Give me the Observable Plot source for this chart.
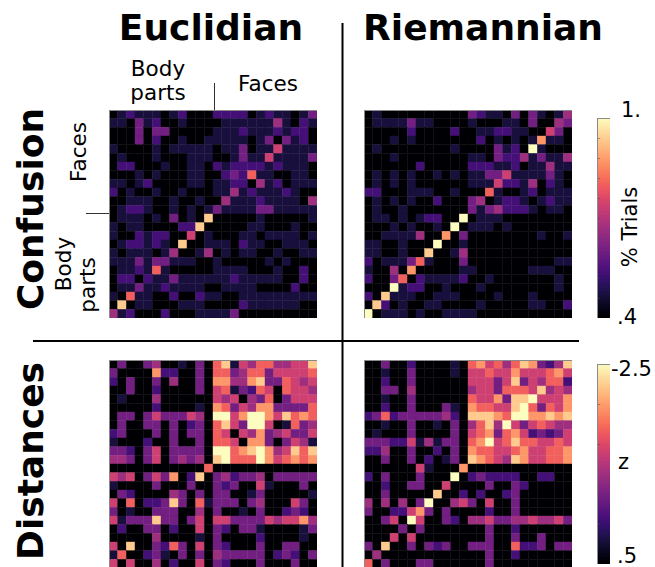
<!DOCTYPE html>
<html><head><meta charset="utf-8">
<script src="https://cdn.jsdelivr.net/npm/d3@7"></script>
<script src="https://cdn.jsdelivr.net/npm/@observablehq/plot@0.6"></script>
<style>
body{margin:0;background:#fff;font-family:"DejaVu Sans",sans-serif;}
#root{position:relative;width:655px;height:567px;overflow:hidden;background:#fff;}
#root svg{position:absolute;}
</style></head><body><div id="root"></div>
<script>
const confEuclid = [
[0,1,2,1,1,1,0,1,2,0,0,0,2,2,2,2,0,1,2,1,1,0,1,3],
[1,1,0,3,1,2,0,0,1,0,0,0,0,1,1,1,1,1,1,4,1,0,2,1],
[0,0,0,3,0,3,3,0,0,0,0,0,1,1,1,2,1,1,1,2,1,2,2,0],
[0,0,0,3,0,2,0,0,1,0,0,1,1,1,1,1,0,1,3,0,3,1,2,0],
[1,0,0,0,0,1,0,1,1,1,1,1,0,1,1,3,0,1,1,5,1,1,1,1],
[0,1,0,0,0,1,0,0,0,1,1,1,0,0,1,3,1,1,5,1,1,1,1,3],
[0,2,2,0,0,0,1,0,0,1,1,0,2,1,2,2,2,2,1,2,1,1,1,0],
[0,0,0,1,0,1,0,0,0,1,1,0,0,2,3,2,6,1,1,0,0,1,1,0],
[1,1,0,1,2,0,0,0,0,1,1,0,1,1,2,2,0,4,1,2,0,1,1,1],
[2,0,1,0,0,1,0,0,1,0,0,0,1,1,4,1,2,1,1,1,2,1,0,0],
[0,0,1,1,1,0,0,1,0,0,1,0,0,4,1,1,1,2,1,1,1,1,0,4],
[0,1,2,2,1,0,0,1,0,1,0,1,3,1,1,1,1,3,3,1,1,1,1,1],
[0,1,1,1,0,1,0,3,0,1,0,8,0,0,0,0,0,1,0,0,0,0,0,1],
[1,0,1,1,0,0,0,0,2,2,8,0,0,0,0,0,1,1,0,0,0,1,0,0],
[1,0,0,2,1,2,2,0,0,5,0,1,0,0,0,1,1,0,1,1,1,1,0,1],
[0,1,2,2,1,2,1,0,8,0,0,1,1,1,0,2,1,1,0,0,1,1,1,0],
[1,0,1,1,1,0,1,4,0,0,1,4,0,1,0,1,1,0,0,1,0,0,1,1],
[1,1,1,3,1,3,3,1,1,1,0,0,1,0,0,0,0,0,1,0,1,0,0,0],
[0,1,1,2,1,6,1,0,0,0,0,0,1,1,1,1,0,0,0,1,0,0,2,0],
[0,2,2,0,2,1,1,3,1,1,1,1,1,1,2,1,1,1,1,1,0,0,2,0],
[0,1,1,3,1,1,2,1,1,1,1,0,0,1,1,1,1,0,0,0,0,2,0,0],
[1,0,6,1,1,0,0,2,0,0,2,1,1,0,0,1,1,1,1,1,1,1,1,1],
[0,8,0,1,1,0,0,0,1,1,1,0,0,0,0,2,1,1,1,1,1,1,0,0],
[4,1,2,0,0,0,2,0,0,0,1,1,1,1,3,0,0,0,0,0,0,0,0,0]
];
const confRiemann = [
[0,1,0,0,0,0,0,0,0,0,0,0,3,2,1,1,0,3,0,3,1,0,1,4],
[0,1,1,1,1,3,1,1,0,0,0,0,1,0,0,0,1,1,0,3,0,0,4,3],
[0,0,0,0,0,2,0,0,0,0,2,0,0,1,1,2,2,1,1,0,0,5,3,0],
[0,0,0,1,0,1,0,0,0,0,0,0,0,2,0,1,0,1,0,1,7,1,1,0],
[0,1,0,0,0,0,0,0,0,0,1,0,0,0,0,3,1,2,0,9,1,0,0,0],
[0,0,0,1,0,0,0,0,0,0,0,0,1,1,0,3,2,2,4,1,3,1,1,4],
[0,0,0,0,0,0,2,0,0,0,0,0,2,2,2,1,1,2,0,1,1,4,1,1],
[0,1,0,1,0,1,0,0,1,0,1,0,1,1,3,3,5,1,1,1,1,3,1,0],
[0,1,0,1,0,1,0,0,0,0,0,0,1,1,1,5,2,2,1,4,0,2,1,0],
[2,2,0,0,0,1,1,1,0,0,1,0,0,0,6,1,0,0,1,2,0,1,1,1],
[0,1,0,1,0,1,0,0,2,0,0,0,3,4,0,1,2,2,1,0,1,2,1,1],
[0,1,0,0,1,0,0,0,0,0,0,0,3,1,3,4,2,2,2,1,0,1,1,0],
[0,1,1,0,1,0,1,2,2,0,0,9,0,1,1,1,0,0,0,0,0,0,0,0],
[0,0,0,1,0,1,0,0,1,0,9,0,1,1,1,0,1,0,0,0,0,0,0,0],
[0,0,1,1,1,1,4,0,0,7,0,3,0,0,0,0,0,0,0,0,1,0,0,1],
[1,1,0,0,1,0,0,0,9,0,0,1,0,0,0,0,0,0,0,0,0,0,0,0],
[1,1,0,0,1,0,0,8,0,0,1,4,0,0,0,0,0,0,0,0,0,0,0,0],
[2,0,1,1,1,3,6,1,0,0,0,3,0,0,0,0,0,0,0,0,0,0,1,1],
[1,0,0,4,0,7,0,0,0,0,0,1,1,0,0,0,0,0,0,1,1,1,0,0],
[2,0,0,3,6,0,2,1,1,1,1,2,0,0,1,0,0,0,0,0,0,0,1,0],
[0,0,0,9,1,2,2,0,0,1,0,0,0,1,0,0,0,0,0,0,0,0,1,0],
[2,0,8,1,1,1,0,0,1,1,1,0,0,0,0,1,0,0,0,1,0,0,0,0],
[0,8,2,0,1,0,0,1,1,0,0,0,0,1,0,0,0,0,0,1,1,0,0,2],
[9,0,1,1,1,0,1,0,0,1,1,1,1,0,0,0,0,0,0,0,0,0,0,0]
];
const distEuclid = [
[0,3,0,0,3,4,0,0,1,0,3,0,6,8,1,5,4,6,6,4,4,5,5,8],
[3,0,0,0,0,7,2,2,0,0,3,0,6,6,3,4,6,6,3,5,5,5,5,6],
[2,0,3,0,0,3,0,4,0,0,3,0,7,7,4,4,7,8,3,3,6,5,4,5],
[0,0,3,0,0,2,0,0,0,0,3,0,5,6,1,3,2,6,5,0,6,5,5,4],
[0,1,0,0,0,4,0,0,0,0,0,0,5,4,5,0,4,3,6,0,3,5,5,5],
[0,0,0,0,0,2,0,0,0,0,1,0,7,6,3,5,4,7,7,3,3,3,3,6],
[0,3,3,0,3,5,3,3,3,5,4,0,9,9,5,7,9,9,7,5,8,6,7,6],
[0,3,0,0,3,3,0,3,0,2,3,0,6,8,5,3,9,9,5,0,1,6,3,4],
[2,3,0,0,0,3,0,3,0,3,3,0,6,5,0,5,4,7,3,4,5,3,3,5],
[1,0,0,0,2,0,0,3,0,0,3,0,6,6,5,0,7,7,3,0,3,5,4,1],
[3,3,2,0,3,5,0,3,3,3,3,0,9,9,6,7,8,9,7,4,5,8,6,8],
[4,4,3,0,3,5,0,3,4,3,4,0,8,9,6,6,6,9,7,5,6,7,6,7],
[0,0,0,0,0,0,0,0,0,0,0,6,0,0,0,0,0,0,0,0,0,0,0,0],
[5,4,5,0,3,5,3,7,0,2,8,0,3,4,2,3,3,4,0,3,3,3,3,3],
[1,0,0,0,0,3,0,0,0,3,0,0,3,2,3,0,0,5,1,0,0,0,3,0],
[0,3,2,0,0,0,0,4,3,0,3,0,3,3,0,0,1,3,0,0,0,0,0,1],
[5,0,6,0,2,2,3,8,3,0,6,1,3,3,3,0,3,4,0,0,0,5,3,0],
[3,0,1,0,0,3,3,3,0,0,4,0,3,0,0,1,0,3,0,0,2,3,2,0],
[5,1,3,3,3,8,3,3,0,3,5,0,5,5,3,3,3,3,5,4,5,5,7,4],
[0,2,0,0,3,3,0,2,0,0,5,0,3,2,0,3,3,1,0,0,0,0,1,3],
[0,0,0,0,0,4,0,0,0,0,1,0,3,0,0,0,0,2,0,0,0,0,1,0],
[5,0,8,0,0,3,2,6,3,0,5,0,3,2,0,0,0,3,0,0,3,3,0,0],
[1,6,0,0,2,3,1,0,3,0,3,0,4,3,3,3,3,3,0,2,3,2,0,3],
[5,0,5,0,0,4,0,2,0,0,5,0,3,2,0,0,0,3,0,0,0,3,0,0]
];
const distRiemann = [
[0,0,3,0,0,2,0,0,0,0,1,0,6,7,5,6,4,6,8,7,3,2,4,8],
[0,0,1,0,0,3,0,0,0,0,1,0,5,5,6,5,5,7,5,5,5,6,7,5],
[0,0,2,0,0,3,0,0,0,0,0,0,5,5,5,3,5,8,3,5,4,6,6,2],
[0,0,3,3,0,4,0,0,0,0,0,0,4,5,5,3,6,6,6,5,8,4,5,4],
[0,0,1,0,0,3,0,0,0,0,0,0,6,5,5,7,3,8,8,9,5,5,5,7],
[0,0,2,0,0,3,0,0,0,3,1,0,7,6,6,5,5,8,9,6,3,6,5,7],
[2,3,6,2,3,3,3,3,3,4,2,0,8,8,8,7,6,9,9,7,7,8,7,8],
[0,0,1,0,0,3,0,0,1,0,3,0,4,6,8,4,9,5,3,5,6,5,4,4],
[0,1,0,0,0,3,0,0,0,0,3,0,5,6,7,3,6,7,5,2,3,2,3,5],
[3,3,3,2,2,5,1,4,1,3,3,0,6,7,9,5,6,8,6,6,5,5,6,5],
[2,2,4,0,0,3,0,0,2,0,3,0,7,6,6,5,5,6,7,5,5,6,6,7],
[0,0,3,0,0,3,0,2,0,1,3,0,8,7,6,5,4,8,7,5,5,6,6,7],
[0,0,0,0,0,0,5,1,0,0,0,7,0,0,0,0,0,0,0,0,0,0,0,0],
[2,0,3,0,0,0,3,0,0,0,9,0,2,3,2,2,2,2,0,0,2,2,0,0],
[0,0,2,0,0,3,3,0,0,5,0,0,0,0,3,0,0,3,2,0,0,0,0,0],
[0,0,3,0,0,0,0,0,8,0,0,2,0,2,0,0,2,3,0,0,0,0,0,0],
[4,0,4,0,4,0,3,9,0,0,4,5,3,0,5,0,0,3,0,0,0,0,0,0],
[3,0,0,2,2,5,7,3,0,3,0,0,0,0,2,0,0,3,0,0,0,0,0,0],
[0,0,3,5,0,9,5,0,0,3,2,0,4,4,5,3,3,4,4,5,4,4,5,3],
[0,0,0,0,3,0,3,0,0,0,0,0,0,0,3,0,0,2,0,0,0,0,0,0],
[0,0,0,5,0,5,0,0,0,0,0,0,0,0,3,0,0,3,0,0,3,0,0,0],
[3,0,8,0,0,3,0,3,2,3,0,0,3,3,3,0,0,6,2,2,3,0,3,3],
[0,4,0,0,0,0,0,0,0,0,0,0,0,0,3,0,0,2,0,0,0,0,0,0],
[6,0,3,0,0,0,3,3,0,0,0,0,0,0,3,0,0,0,0,0,0,0,0,0]
];
const colTitles = ["Euclidian", "Riemannian"];
const rowTitles = ["Confusion", "Distances"];
const confTicks = ["1.", ".4"];
const distTicks = ["-2.5", ".5"];
const confLabel = "% Trials";
const distLabel = "z";
const levelDomain = [0, 9];

const root = document.getElementById("root");
const N = 24;
const colorOpt = {type: "linear", scheme: "magma", domain: levelDomain};

function place(el, left, top) {
  el.style.left = left + "px"; el.style.top = top + "px";
  root.appendChild(el);
}

function heat(matrix, left, top) {
  const cells = matrix.flatMap((row, r) => row.map((v, c) => ({r, c, v})));
  const p = Plot.plot({
    width: 208, height: 208, margin: 0,
    x: {type: "band", domain: d3.range(N), padding: 0, round: false, axis: null},
    y: {type: "band", domain: d3.range(N), padding: 0, round: false, axis: null},
    color: colorOpt,
    marks: [
      Plot.cell(cells, {x: "c", y: "r", fill: "v", stroke: "v", strokeWidth: 0.4, inset: 0}),
      Plot.frame({stroke: "#8a8a8a", strokeWidth: 1})
    ]
  });
  place(p, left, top);
}

function colorbar(left, top, h, nTicks) {
  const step = 9 / 150;
  const steps = d3.range(0, 9, step);
  const ticks = d3.range(1, nTicks).map(i => i * 9 / nTicks);
  const p = Plot.plot({
    width: 13, height: h, margin: 0,
    x: {domain: [0, 1], axis: null},
    y: {domain: levelDomain, axis: null},
    color: colorOpt,
    marks: [
      Plot.rect(steps, {x1: 0, x2: 1, y1: d => d, y2: d => d + step * 1.6, fill: d => d}),
      Plot.ruleY(ticks, {y: d => d, x1: 0, x2: 0.25, stroke: "#444", strokeWidth: 0.8, strokeOpacity: 0.6}),
      Plot.frame({stroke: "#8a8a8a"})
    ]
  });
  place(p, left, top);
}

heat(confEuclid, 109, 110);
heat(confRiemann, 364, 110);
heat(distEuclid, 109, 360);
heat(distRiemann, 364, 360);
colorbar(597, 118, 200, 10);
colorbar(597, 364, 200, 5);

// annotation layer
const svg = d3.create("svg").attr("width", 655).attr("height", 567)
  .style("left", "0px").style("top", "0px").style("pointer-events", "none")
  .attr("font-family", "DejaVu Sans, sans-serif");
place(svg.node(), 0, 0);

// divider lines
svg.append("line").attr("x1", 342.5).attr("x2", 342.5).attr("y1", 23).attr("y2", 567).attr("stroke", "#000").attr("stroke-width", 2);
svg.append("line").attr("x1", 33).attr("x2", 579).attr("y1", 341).attr("y2", 341).attr("stroke", "#000").attr("stroke-width", 2);

// column titles
[[colTitles[0], 211], [colTitles[1], 483]].forEach(([t, x]) =>
  svg.append("text").attr("x", x).attr("y", 40).attr("text-anchor", "middle")
    .attr("font-size", 36).attr("font-weight", "bold").text(t));

// row titles (rotated)
[[rowTitles[0], 209], [rowTitles[1], 461]].forEach(([t, y]) =>
  svg.append("text").attr("transform", `translate(43,${y}) rotate(-90)`).attr("text-anchor", "middle")
    .attr("font-size", 36).attr("font-weight", "bold").text(t));

// category labels on top
const lab = 21.5;
svg.append("text").attr("x", 158).attr("y", 76).attr("text-anchor", "middle").attr("font-size", lab).text("Body");
svg.append("text").attr("x", 158).attr("y", 100).attr("text-anchor", "middle").attr("font-size", lab).text("parts");
svg.append("text").attr("x", 268).attr("y", 91).attr("text-anchor", "middle").attr("font-size", lab).text("Faces");
svg.append("line").attr("x1", 214.5).attr("x2", 214.5).attr("y1", 83).attr("y2", 110).attr("stroke", "#333").attr("stroke-width", 1);

// category labels on left (rotated)
svg.append("text").attr("transform", "translate(86,152) rotate(-90)").attr("text-anchor", "middle").attr("font-size", lab).text("Faces");
svg.append("text").attr("transform", "translate(71,264) rotate(-90)").attr("text-anchor", "middle").attr("font-size", lab).text("Body");
svg.append("text").attr("transform", "translate(95,285) rotate(-90)").attr("text-anchor", "middle").attr("font-size", lab).text("parts");
svg.append("line").attr("x1", 86).attr("x2", 109).attr("y1", 213.5).attr("y2", 213.5).attr("stroke", "#333").attr("stroke-width", 1);

// colour bar labels
const tl = 21;
svg.append("text").attr("x", 621).attr("y", 117).attr("font-size", tl).text(confTicks[0]);
svg.append("text").attr("x", 617).attr("y", 324).attr("font-size", tl).text(confTicks[1]);
svg.append("text").attr("transform", "translate(637,227) rotate(-90)").attr("text-anchor", "middle").attr("font-size", tl).text(confLabel);
svg.append("text").attr("x", 611).attr("y", 376).attr("font-size", tl).text(distTicks[0]);
svg.append("text").attr("x", 617).attr("y", 563).attr("font-size", tl).text(distTicks[1]);
svg.append("text").attr("x", 618).attr("y", 469).attr("font-size", tl).text(distLabel);
</script></body></html>
